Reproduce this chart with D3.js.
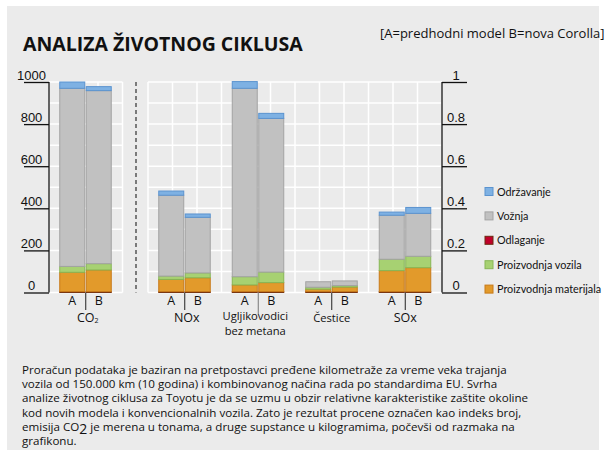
<!DOCTYPE html>
<meta charset="utf-8">
<style>
    body { margin: 0; background: #fff; }
    svg { font-family: "Open Sans", "Noto Sans", sans-serif; }
    .grid line { stroke: #fff; stroke-width: 1.5; }
    .axis text { font-size: 13px; fill: #111; }
    .axis line, .axis path { stroke: #111; stroke-width: 1.3; }
    .lbl { font-size: 12.5px; fill: #111; text-anchor: middle; }
    .glbl { font-size: 11.2px; fill: #111; text-anchor: middle; }
    .legend text { font-family: Lato, sans-serif; font-size: 10.8px; fill: #111; }
    .note { font-size: 11.6px; fill: #111; }
</style>

<svg width="606" height="454"></svg>

<script src="https://d3js.org/d3.v7.min.js"></script>

<script>
// groups and the two models in each group
var categories = ["CO2", "NOx", "Ugljikovodici", "Čestice", "SOx"];
var models = ["A", "B"];

// one value per bar: CO2 A, CO2 B, NOx A, NOx B, HC A, HC B, PM A, PM B, SOx A, SOx B
var odlaganje   = [4, 4, 4, 4, 4, 4, 4, 4, 4, 4];
var materijal   = [92, 103, 58, 66, 32, 43, 12, 22, 100, 114];
var vozila      = [28, 30, 16, 23, 39, 50, 9, 7, 54, 54];
var voznja      = [846, 822, 384, 264, 895, 730, 26, 22, 209, 204];
var odrzavanje  = [30, 19, 20, 16, 32, 24, 0, 0, 15, 28];

var leftTicks = [0, 200, 400, 600, 800, 1000];
var rightTicks = [0, 0.2, 0.4, 0.6, 0.8, 1];

// legend order (top to bottom) and stacking order (bottom to top)
var legendKeys = ["Održavanje", "Vožnja", "Odlaganje", "Proizvodnja vozila", "Proizvodnja materijala"];
var stackKeys = ["Odlaganje", "Proizvodnja materijala", "Proizvodnja vozila", "Vožnja", "Održavanje"];
var fills = {
    "Održavanje": "#7eb1e3",
    "Vožnja": "#c1c1c1",
    "Odlaganje": "#c0002a",
    "Proizvodnja vozila": "#a7d172",
    "Proizvodnja materijala": "#e29a2b"
};
var strokes = {
    "Održavanje": "#5b93cf",
    "Vožnja": "#a3a3a3",
    "Odlaganje": "#6b2a10",
    "Proizvodnja vozila": "#87b655",
    "Proizvodnja materijala": "#c87a18"
};

var rows = [];
categories.forEach(function(c, ci) {
    models.forEach(function(m, mi) {
        var i = ci * 2 + mi;
        rows.push({
            group: c, model: m,
            "Odlaganje": odlaganje[i],
            "Proizvodnja materijala": materijal[i],
            "Proizvodnja vozila": vozila[i],
            "Vožnja": voznja[i],
            "Održavanje": odrzavanje[i]
        });
    });
});

var svg = d3.select("svg");
svg.append("rect").attr("x", 7).attr("y", 6).attr("width", 592).attr("height", 444).attr("fill", "#ebebeb");

var y = d3.scaleLinear().domain([0, 1000]).range([292.5, 82]);
var yR = d3.scaleLinear().domain([0, 1]).range([292.5, 82]);

// CO2 sits in its own panel, the rest share the second one
var x1 = d3.scaleBand().domain(categories.slice(0, 1)).range([49, 122.5]);
var x2 = d3.scaleBand().domain(categories.slice(1)).range([148, 442]);
function gx(c) { return c === categories[0] ? x1(c) + x1.bandwidth() / 2 : x2(c) + x2.bandwidth() / 2; }
var xm = d3.scaleBand().domain(models).range([-26, 25.5]).paddingInner(0.0566);

// grid
var grid = svg.append("g").attr("class", "grid");
[[49, 122.5, 3], [148, 442, 12]].forEach(function(p) {
    var gs = d3.scaleLinear().domain([0, p[2]]).range([p[0], p[1]]);
    grid.selectAll(null).data(y.ticks(10)).enter().append("line")
        .attr("x1", p[0]).attr("x2", p[1])
        .attr("y1", function(d) { return y(d); }).attr("y2", function(d) { return y(d); });
    grid.selectAll(null).data(d3.range(0, p[2] + 1)).enter().append("line")
        .attr("x1", function(d) { return gs(d); }).attr("x2", function(d) { return gs(d); })
        .attr("y1", y(1000)).attr("y2", y(0));
});

// dashed separator
svg.append("line").attr("x1", 136).attr("x2", 136).attr("y1", y(1000)).attr("y2", y(0))
    .attr("stroke", "#555").attr("stroke-width", 1.5).attr("stroke-dasharray", "4,3");

// bars
var stacked = d3.stack().keys(stackKeys)(rows);
svg.append("g").selectAll("g").data(stacked).enter().append("g")
    .attr("fill", function(s) { return fills[s.key]; })
    .attr("stroke", function(s) { return strokes[s.key]; })
    .selectAll("rect")
    .data(function(s) { return s.filter(function(d) { return d[1] > d[0]; }); })
    .enter().append("rect")
    .attr("x", function(d) { return gx(d.data.group) + xm(d.data.model); })
    .attr("width", xm.bandwidth())
    .attr("y", function(d) { return y(d[1]); })
    .attr("height", function(d) { return y(d[0]) - y(d[1]); })
    .attr("stroke-width", 1);

// axes
var axL = svg.append("g").attr("class", "axis").attr("transform", "translate(49,0)")
    .call(d3.axisLeft(y).tickValues(leftTicks).tickSize(25).tickSizeOuter(0).tickFormat(d3.format("d")));
axL.selectAll("text").attr("x", -17.5).attr("y", -3).attr("dy", 0).style("text-anchor", "middle");
var axR = svg.append("g").attr("class", "axis").attr("transform", "translate(442,0)")
    .call(d3.axisRight(yR).tickValues(rightTicks).tickSize(25).tickSizeOuter(0).tickFormat(d3.format("~g")));
axR.selectAll("text").attr("x", 14).attr("y", -3).attr("dy", 0).style("text-anchor", "middle");
svg.selectAll(".axis .domain").attr("d", function() {
    return "M0," + y(1000) + "V" + y(0);
});

// A / B labels and dividers
categories.forEach(function(c) {
    var cx = gx(c);
    var hc = c === "Ugljikovodici";
    svg.append("line").attr("x1", cx).attr("x2", cx).attr("y1", y(0)).attr("y2", hc ? 314 : 310)
        .attr("stroke", hc ? "#777" : "#222").attr("stroke-width", 1);
    models.forEach(function(m) {
        svg.append("text").attr("class", "lbl")
            .attr("x", cx + xm(m) + xm.bandwidth() / 2).attr("y", 305).text(m);
    });
});

var gl = svg.append("g");
var co2 = gl.append("text").attr("class", "lbl").attr("x", gx("CO2") + 2).attr("y", 322);
co2.append("tspan").text("CO");
co2.append("tspan").attr("font-size", "7px").attr("dy", 1).text("2");
gl.append("text").attr("class", "lbl").attr("x", gx("NOx") + 2).attr("y", 322).text("NOx");
gl.append("text").attr("class", "glbl").attr("x", gx("Ugljikovodici") - 3).attr("y", 320).text("Ugljikovodici");
gl.append("text").attr("class", "glbl").attr("x", gx("Ugljikovodici") - 3).attr("y", 335).text("bez metana");
gl.append("text").attr("class", "glbl").attr("x", gx("Čestice")).attr("y", 322).text("Čestice");
gl.append("text").attr("class", "lbl").attr("x", gx("SOx")).attr("y", 322).text("SOx");

// legend
var leg = svg.append("g").attr("class", "legend").selectAll("g").data(legendKeys).enter().append("g")
    .attr("transform", function(d, i) { return "translate(485," + (191.5 + i * 24.4) + ")"; });
leg.append("rect").attr("x", 0).attr("y", -4).attr("width", 8).attr("height", 8)
    .attr("fill", function(d) { return fills[d]; })
    .attr("stroke", function(d) { return strokes[d]; });
leg.append("text").attr("x", 12).attr("y", 4).text(function(d) { return d; });

// titles
svg.append("text").attr("x", 23).attr("y", 51).attr("font-size", "19.5px").attr("font-weight", "bold")
    .attr("fill", "#111").text("ANALIZA ŽIVOTNOG CIKLUSA");
svg.append("text").attr("x", 380).attr("y", 38).attr("font-size", "13px").attr("fill", "#111")
    .text("[A=predhodni model B=nova Corolla]");

// footnote
var note = [
    "Proračun podataka je baziran na pretpostavci pređene kilometraže za vreme veka trajanja",
    "vozila od 150.000 km (10 godina) i kombinovanog načina rada po standardima EU. Svrha",
    "analize životnog ciklusa za Toyotu je da se uzmu u obzir relativne karakteristike zaštite okoline",
    "kod novih modela i konvencionalnih vozila. Zato je rezultat procene označen kao indeks broj,",
    null,
    "grafikonu."
];
note.forEach(function(t, i) {
    var tx = svg.append("text").attr("class", "note").attr("x", 22).attr("y", 374 + i * 14.2);
    if (t) { tx.text(t); return; }
    tx.append("tspan").text("emisija CO");
    tx.append("tspan").attr("dy", 3).attr("font-size", "14px").text("2");
    tx.append("tspan").attr("dy", -3).text(" je merena u tonama, a druge supstance u kilogramima, počevši od razmaka na");
});
</script>
